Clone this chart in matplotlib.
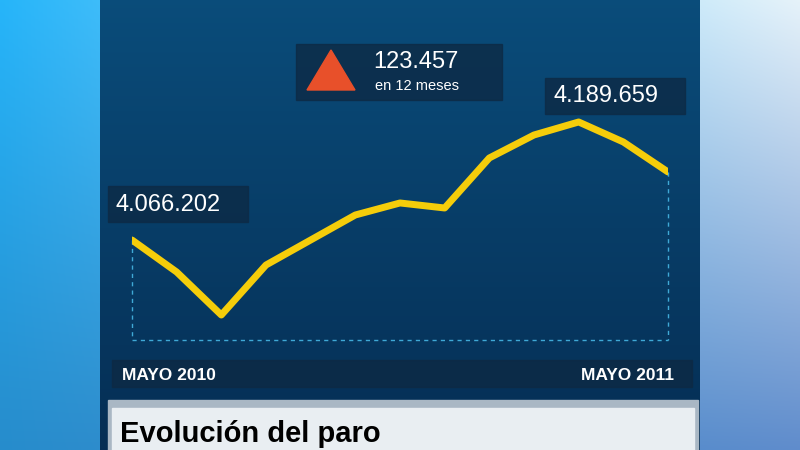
import matplotlib
matplotlib.use("Agg")
import matplotlib.pyplot as plt
import numpy as np
from matplotlib.patches import Rectangle, Polygon

plt.rcParams['font.family'] = ['Liberation Sans', 'DejaVu Sans']

months = ["MAYO 2010","JUN","JUL","AGO","SEP","OCT","NOV","DIC","ENE","FEB","MAR","ABR","MAYO 2011"]
paro = [4066202, 4008100, 3930100, 4020800, 4066200, 4111600, 4133400, 4124300,
        4215100, 4256800, 4280400, 4244100, 4189659]
first_label = "4.066.202"
peak_label = "4.189.659"
delta_label = "123.457"
delta_sub = "en 12 meses"
title = "Evolución del paro"

W, H = 800, 450
fig = plt.figure(figsize=(8, 4.5), dpi=100)

bg = fig.add_axes([0, 0, 1, 1])
bg.set_xlim(0, W); bg.set_ylim(H, 0); bg.axis("off")
g = np.linspace(0, 1, 256)
xx, yy = np.meshgrid(g, g)
outer = np.zeros((256, 256, 3))
outer[..., 0] = 0.15 + 0.75 * xx * (1 - 0.7 * yy)
outer[..., 1] = 0.55 + 0.40 * (1 - yy) * (0.4 + 0.6 * xx)
outer[..., 2] = 0.80 + 0.18 * (1 - yy)
bg.imshow(np.clip(outer, 0, 1), extent=[0, W, H, 0], aspect="auto", zorder=0)
pan = np.zeros((256, 2, 3))
t = np.linspace(0, 1, 256)[:, None]
pan[..., 0] = 0.02 + 0.02 * (1 - t)
pan[..., 1] = 0.30 - 0.12 * t
pan[..., 2] = 0.48 - 0.15 * t
bg.imshow(pan, extent=[100, 700, H, 0], aspect="auto", zorder=1)
bg.plot([132, 132], [240, 340], ls=(0, (3, 3)), color="#3fa9d6", lw=1, zorder=2)
bg.plot([668, 668], [172, 340], ls=(0, (3, 3)), color="#3fa9d6", lw=1, zorder=2)
bg.plot([132, 668], [340, 340], ls=(0, (3, 3)), color="#3fa9d6", lw=1, zorder=2)
bg.add_patch(Rectangle((112, 360), 580, 27, color="#0d2a45", alpha=0.85, zorder=2))
bg.text(122, 375, "MAYO 2010", color="white", fontsize=12.5, fontweight="bold", va="center", zorder=3)
bg.text(674, 375, "MAYO 2011", color="white", fontsize=12.5, fontweight="bold", va="center", ha="right", zorder=3)
bg.add_patch(Rectangle((108, 400), 590, 50, color="#a9b7c4", zorder=2))
bg.add_patch(Rectangle((112, 408), 582, 42, color="#e9eef2", zorder=2))
bg.text(120, 434, title, color="black", fontsize=21, fontweight="bold", va="center", zorder=3)
bg.add_patch(Rectangle((108, 186), 140, 36, color="#0d2a45", alpha=0.8, zorder=2))
bg.text(116, 205, first_label, color="white", fontsize=17, va="center", zorder=3)
bg.add_patch(Rectangle((545, 78), 140, 36, color="#0d2a45", alpha=0.8, zorder=2))
bg.text(553, 96, peak_label, color="white", fontsize=17, va="center", zorder=3)
bg.add_patch(Rectangle((296, 44), 206, 56, color="#0d2a45", alpha=0.8, zorder=2))
bg.add_patch(Polygon([[307, 90], [331, 50], [355, 90]], color="#e8502a", zorder=3))
bg.text(373, 62, delta_label, color="white", fontsize=17, va="center", zorder=3)
bg.text(375, 86, delta_sub, color="white", fontsize=10.5, va="center", zorder=3)

ax = fig.add_axes([132 / W, 0, 536 / W, 1])
ax.patch.set_alpha(0)
ax.axis("off")
ax.set_xlim(0, len(paro) - 1)
ax.set_ylim(4066202 - 210 * 1815, 4066202 + 240 * 1815)
ax.plot(range(len(paro)), paro, color="#f5cd0a", lw=5, solid_capstyle="round", solid_joinstyle="round", zorder=5)

fig.savefig("out.png", dpi=100)
